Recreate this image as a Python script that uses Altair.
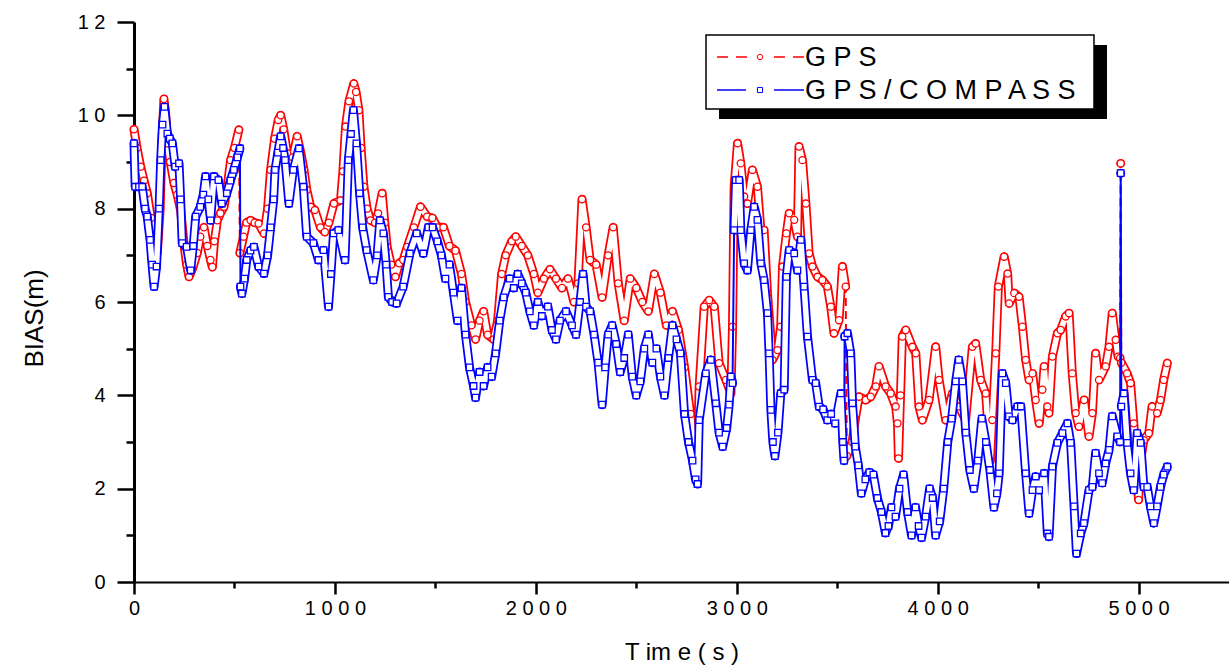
import altair as alt
import pandas as pd

# GPS only (red) : (time s, bias m)
gps_points = [
    (0, 9.7), (15, 9.3), (33, 8.9), (50, 8.6), (66, 8.33), (85, 7.8), (100, 7.4), (116, 7.05),
    (130, 8.0), (140, 9.5), (149, 10.35), (158, 10.0), (166, 9.4), (180, 9.0), (199, 8.55),
    (215, 8.3), (232, 7.97), (250, 7.2), (262, 6.8), (274, 6.54), (290, 6.7), (315, 7.05),
    (330, 7.4), (348, 7.6), (365, 7.2), (381, 6.9), (390, 6.75), (400, 7.3), (415, 7.75),
    (430, 7.9), (448, 8.04), (465, 8.5), (481, 9.04), (500, 9.3), (522, 9.69), (527, 7.05),
    (545, 7.4), (560, 7.7), (580, 7.75), (600, 7.7), (620, 7.68), (647, 7.47), (665, 8.0),
    (680, 8.83), (700, 9.5), (718, 9.9), (730, 10.0), (745, 9.7), (763, 9.19), (776, 8.76),
    (790, 9.1), (812, 9.55), (830, 9.2), (846, 8.83), (860, 8.4), (879, 8.04), (900, 7.97),
    (928, 7.6), (950, 7.5), (970, 7.7), (995, 8.11), (1028, 8.18), (1040, 8.8), (1053, 9.76),
    (1070, 10.3), (1094, 10.68), (1105, 10.5), (1119, 10.11), (1130, 9.3), (1144, 8.47),
    (1160, 8.0), (1177, 7.75), (1200, 7.7), (1215, 7.9), (1235, 8.33), (1248, 7.7), (1260, 7.18),
    (1280, 6.8), (1301, 6.54), (1320, 6.83), (1340, 6.9), (1360, 7.18), (1393, 7.6), (1426, 8.04),
    (1459, 7.83), (1485, 7.8), (1510, 7.6), (1540, 7.6), (1570, 7.2), (1600, 7.1), (1630, 6.6),
    (1650, 6.0), (1680, 5.5), (1700, 5.2), (1720, 5.6), (1740, 5.8), (1760, 5.3), (1790, 5.2),
    (1810, 5.6), (1830, 6.6), (1850, 7.0), (1880, 7.3), (1900, 7.4), (1930, 7.2), (1960, 7.0),
    (1990, 6.6), (2010, 6.2), (2040, 6.5), (2070, 6.7), (2100, 6.5), (2130, 6.3), (2160, 6.5),
    (2190, 6.0), (2210, 6.4), (2230, 8.2), (2250, 7.6), (2270, 6.9), (2300, 6.8), (2330, 6.1),
    (2360, 7.0), (2385, 7.6), (2410, 6.4), (2440, 5.6), (2470, 6.5), (2500, 6.3), (2530, 6.0),
    (2560, 5.8), (2590, 6.6), (2620, 6.2), (2650, 5.5), (2680, 5.8), (2710, 5.4), (2740, 4.6),
    (2770, 3.6), (2795, 2.4), (2805, 2.8), (2813, 4.19), (2838, 5.9), (2863, 6.04), (2888, 5.9),
    (2912, 4.69), (2946, 4.33), (2971, 4.04), (2979, 5.47), (2987, 8.47), (3004, 9.4),
    (3020, 8.97), (3037, 8.26), (3053, 8.11), (3078, 8.83), (3103, 8.47), (3120, 7.54),
    (3136, 7.54), (3153, 6.18), (3178, 4.76), (3203, 4.97), (3219, 5.47), (3228, 6.76),
    (3247, 7.47), (3261, 7.9), (3286, 7.76), (3302, 7.4), (3310, 9.33), (3327, 9.04),
    (3344, 8.11), (3360, 7.04), (3377, 6.76), (3402, 6.54), (3426, 6.47), (3451, 6.33),
    (3468, 5.9), (3484, 5.33), (3509, 5.61), (3526, 6.76), (3542, 6.33), (3548, 2.7),
    (3575, 3.0), (3590, 3.5), (3609, 3.97), (3642, 3.9), (3667, 3.97), (3692, 4.19), (3708, 4.62),
    (3741, 4.19), (3766, 4.04), (3791, 3.76), (3800, 3.4), (3805, 2.65), (3815, 4.0),
    (3824, 5.26), (3841, 5.4), (3874, 5.04), (3891, 4.9), (3907, 3.76), (3924, 3.47),
    (3957, 3.9), (3990, 5.04), (4007, 4.33), (4040, 3.47), (4073, 4.04), (4106, 3.76),
    (4139, 3.47), (4173, 5.04), (4189, 5.11), (4214, 4.33), (4239, 4.04), (4262, 2.6),
    (4272, 3.47), (4289, 4.9), (4302, 6.33), (4331, 6.97), (4348, 6.61), (4356, 5.97),
    (4381, 6.19), (4405, 6.11), (4422, 5.47), (4438, 4.76), (4455, 4.33), (4472, 4.47),
    (4488, 3.9), (4505, 3.4), (4521, 4.12), (4530, 4.62), (4546, 3.76), (4554, 3.62),
    (4571, 4.83), (4596, 5.33), (4612, 5.4), (4637, 5.69), (4654, 5.76), (4670, 4.47),
    (4687, 3.62), (4703, 3.33), (4729, 3.9), (4753, 3.12), (4770, 3.62), (4786, 4.9),
    (4803, 4.33), (4836, 4.62), (4853, 5.04), (4869, 5.76), (4886, 5.19), (4898, 4.83),
    (4908, 4.8), (4911, 8.97), (4914, 4.7), (4943, 4.47), (4960, 4.26), (4976, 3.4),
    (4993, 2.33), (5000, 1.76), (5010, 2.61), (5026, 3.04), (5051, 3.19), (5067, 3.76),
    (5092, 3.62), (5109, 3.9), (5125, 4.33), (5143, 4.69),
]

# GPS/COMPASS (blue) : (time s, bias m)
combo_points = [
    (0, 9.4), (6, 8.47), (25, 8.47), (41, 8.47), (55, 8.0), (66, 7.83), (80, 7.33), (90, 6.8),
    (100, 6.33), (112, 6.76), (125, 8.0), (133, 9.04), (142, 9.8), (152, 10.18), (166, 9.61),
    (178, 9.5), (191, 9.4), (205, 8.9), (224, 8.97), (232, 8.2), (240, 7.26), (262, 7.18),
    (282, 6.68), (295, 7.2), (307, 7.83), (330, 8.04), (345, 8.3), (356, 8.69), (370, 8.2),
    (381, 7.75), (398, 8.69), (420, 8.61), (437, 8.11), (462, 8.33), (480, 8.6), (497, 8.83),
    (515, 9.1), (527, 9.29), (530, 6.33), (537, 6.18), (550, 6.5), (561, 6.9), (580, 7.1),
    (597, 7.18), (620, 6.76), (647, 6.61), (665, 7.0), (680, 7.6), (695, 8.2), (702, 8.83),
    (716, 9.2), (730, 9.55), (742, 9.3), (752, 9.04), (771, 8.11), (793, 8.83), (821, 9.29),
    (843, 8.47), (860, 7.4), (893, 7.26), (918, 6.9), (943, 7.11), (968, 5.9), (980, 6.6),
    (993, 7.47), (1017, 7.54), (1050, 6.9), (1067, 9.04), (1080, 9.6), (1092, 10.11),
    (1107, 9.4), (1123, 8.33), (1138, 7.6), (1158, 7.11), (1191, 6.47), (1210, 7.0),
    (1224, 7.75), (1241, 7.47), (1255, 6.8), (1266, 6.11), (1285, 6.0), (1307, 5.97),
    (1340, 6.33), (1373, 7.04), (1407, 7.47), (1440, 7.04), (1465, 7.6), (1486, 7.6),
    (1510, 7.3), (1530, 7.0), (1550, 6.5), (1570, 6.8), (1590, 6.2), (1610, 5.6), (1630, 6.3),
    (1650, 5.3), (1670, 4.6), (1690, 4.2), (1700, 3.95), (1720, 4.5), (1740, 4.2), (1760, 4.6),
    (1780, 4.4), (1800, 4.9), (1820, 5.6), (1840, 6.1), (1870, 6.5), (1890, 6.3), (1910, 6.6),
    (1930, 6.4), (1950, 6.2), (1970, 5.8), (1990, 5.5), (2010, 6.0), (2030, 5.7), (2060, 5.9),
    (2080, 5.4), (2100, 5.2), (2120, 5.6), (2150, 5.8), (2180, 5.5), (2200, 5.3), (2220, 6.0),
    (2235, 6.6), (2250, 5.9), (2270, 5.8), (2290, 5.3), (2310, 4.7), (2330, 3.8), (2345, 4.6),
    (2360, 5.3), (2380, 5.5), (2400, 5.1), (2420, 4.5), (2440, 4.8), (2460, 5.3), (2480, 4.4),
    (2500, 4.0), (2520, 4.3), (2540, 5.0), (2560, 5.3), (2580, 4.7), (2600, 5.0), (2620, 4.4),
    (2640, 4.0), (2660, 4.8), (2680, 5.5), (2700, 5.2), (2720, 4.9), (2740, 3.6), (2760, 3.0),
    (2780, 2.6), (2795, 2.2), (2805, 2.1), (2813, 3.47), (2846, 4.47), (2871, 4.76),
    (2896, 3.83), (2912, 3.2), (2930, 2.9), (2950, 3.3), (2962, 3.8), (2971, 4.4), (2979, 4.26),
    (2987, 7.54), (2995, 8.61), (3012, 8.61), (3020, 7.54), (3037, 6.83), (3053, 6.68),
    (3070, 7.54), (3087, 8.04), (3103, 7.76), (3120, 6.83), (3136, 6.47), (3153, 5.76),
    (3161, 4.9), (3170, 3.69), (3180, 3.0), (3190, 2.7), (3205, 3.2), (3219, 4.04), (3236, 4.12),
    (3247, 6.54), (3261, 7.11), (3286, 7.04), (3302, 6.68), (3319, 7.33), (3335, 6.33),
    (3352, 5.26), (3377, 4.33), (3393, 4.26), (3410, 3.76), (3430, 3.7), (3451, 3.47),
    (3470, 3.6), (3490, 3.4), (3518, 4.04), (3528, 3.0), (3534, 2.6), (3537, 5.26), (3551, 5.33),
    (3567, 4.9), (3576, 3.83), (3590, 2.9), (3605, 2.5), (3620, 1.9), (3640, 2.2), (3660, 2.35),
    (3680, 2.3), (3700, 1.8), (3720, 1.5), (3740, 1.05), (3755, 1.2), (3770, 1.6), (3790, 1.4),
    (3810, 2.0), (3830, 2.3), (3850, 1.5), (3870, 1.0), (3890, 1.6), (3905, 1.2), (3920, 0.95),
    (3940, 1.4), (3960, 2.0), (3975, 1.8), (3990, 1.0), (4010, 1.3), (4030, 2.0), (4050, 3.0),
    (4070, 3.5), (4090, 4.3), (4105, 4.76), (4123, 4.3), (4140, 3.2), (4160, 2.4), (4180, 2.0),
    (4200, 2.6), (4220, 3.5), (4240, 3.0), (4260, 2.4), (4280, 1.6), (4295, 1.9), (4306, 2.33),
    (4322, 4.47), (4339, 4.26), (4355, 3.55), (4372, 3.47), (4397, 3.76), (4414, 3.76),
    (4438, 2.33), (4455, 1.47), (4472, 1.97), (4488, 2.26), (4505, 1.97), (4530, 2.33),
    (4546, 1.04), (4554, 0.97), (4571, 2.47), (4596, 2.98), (4621, 3.19), (4646, 3.4),
    (4662, 2.98), (4679, 1.62), (4691, 0.61), (4712, 1.04), (4728, 1.26), (4753, 1.97),
    (4770, 2.04), (4786, 2.76), (4803, 2.33), (4819, 2.12), (4836, 2.54), (4853, 2.83),
    (4869, 3.55), (4894, 3.12), (4908, 3.0), (4911, 8.76), (4914, 3.76), (4927, 4.04),
    (4943, 2.98), (4960, 2.33), (4976, 1.97), (4993, 3.19), (5010, 2.98), (5026, 2.04),
    (5043, 2.04), (5059, 1.62), (5076, 1.26), (5092, 1.62), (5109, 2.04), (5125, 2.3),
    (5143, 2.47),
]

series_names = ["GPS", "GPS/COMPASS"]
legend_labels = ["G P S", "G P S / C O M P A S S"]
x_ticks = list(range(0, 5001, 500))
y_ticks = list(range(0, 13, 1))


def frame(points):
    df = pd.DataFrame(points, columns=["t", "v"])
    # a new run starts where the trace jumps abruptly (drawn only as a thin line there)
    dv = df["v"].diff().abs()
    dt = df["t"].diff()
    jump = (dv > 1.5) & (dv / dt > 0.4)
    df["seg"] = jump.cumsum()
    return df


gps_df = frame(gps_points)
combo_df = frame(combo_points)

FONT = "Liberation Sans"
RED = "#ff0000"
BLUE = "#0000ff"

x_enc = alt.X(
    "t:Q",
    scale=alt.Scale(domain=[0, 5450], nice=False, zero=False),
    axis=alt.Axis(
        values=x_ticks,
        format="d",
        labelExpr="datum.value % 1000 === 0 ? join(split(datum.label, ''), ' ') : ''",
        tickSize={"condition": {"test": "datum.value % 1000 === 0", "value": 12}, "value": 6},
        tickWidth=2.5,
        tickColor="black",
        domainColor="black",
        domainWidth=2,
        labelFont=FONT,
        labelFontSize=20,
        labelColor="black",
        labelPadding=4,
        labelFlush=False,
        grid=False,
        title="T im e ( s )",
        titleFont=FONT,
        titleFontSize=24,
        titleFontWeight="normal",
        titleColor="black",
        titlePadding=22,
    ),
)
y_enc = alt.Y(
    "v:Q",
    scale=alt.Scale(domain=[0, 12], nice=False),
    axis=alt.Axis(
        values=y_ticks,
        format="d",
        labelExpr="datum.value % 2 === 0 ? join(split(datum.label, ''), ' ') : ''",
        tickSize={"condition": {"test": "datum.value % 2 === 0", "value": 17}, "value": 8},
        tickWidth=2.5,
        tickColor="black",
        domainColor="black",
        domainWidth=3,
        labelFont=FONT,
        labelFontSize=20,
        labelColor="black",
        labelPadding=12,
        labelFlush=False,
        grid=False,
        title="BIAS(m)",
        titleFont=FONT,
        titleFontSize=26,
        titleFontWeight="normal",
        titleColor="black",
        titlePadding=30,
        titleY=296,
    ),
)


def series_layers(df, color, dash, shape, size, first=False):
    base = alt.Chart(df)
    thin = base.mark_line(color=color, strokeWidth=2, **({"strokeDash": dash} if dash else {}))
    thin = thin.encode(x=x_enc, y=y_enc) if first else thin.encode(x="t:Q", y="v:Q")
    tube_out = base.mark_line(color=color, strokeWidth=9, strokeJoin="round", strokeCap="round").encode(
        x="t:Q", y="v:Q", detail="seg:N"
    )
    tube_in = base.mark_line(color="white", strokeWidth=5.5, strokeJoin="round", strokeCap="round").encode(
        x="t:Q", y="v:Q", detail="seg:N"
    )
    pts = base.mark_point(
        shape=shape, size=size, fill="white", stroke=color, strokeWidth=1.3, opacity=1
    ).encode(x="t:Q", y="v:Q")
    return [thin, tube_out, tube_in, pts]


red_layers = series_layers(gps_df, RED, [8, 5], "circle", 50, first=True)
blue_layers = series_layers(combo_df, BLUE, None, "square", 42)

one = alt.InlineData(values=[{"k": 1}])

shadow = alt.Chart(one).mark_rect(color="black").encode(
    x=alt.value(585), x2=alt.value(973), y=alt.value(23), y2=alt.value(97)
)
box = alt.Chart(one).mark_rect(fill="white", stroke="black", strokeWidth=1.5).encode(
    x=alt.value(572), x2=alt.value(960), y=alt.value(13), y2=alt.value(87)
)
leg_red_line = alt.Chart(one).mark_rule(color=RED, strokeWidth=1.5, strokeDash=[11, 8]).encode(
    x=alt.value(583), x2=alt.value(670), y=alt.value(35)
)
leg_red_gap = alt.Chart(one).mark_rule(color="white", strokeWidth=4).encode(
    x=alt.value(616), x2=alt.value(636), y=alt.value(35)
)
leg_red_pt = alt.Chart(one).mark_point(
    shape="circle", size=30, fill="white", stroke=RED, strokeWidth=1, opacity=1
).encode(x=alt.value(626), y=alt.value(35))
leg_blue_a = alt.Chart(one).mark_rule(color=BLUE, strokeWidth=1.5).encode(
    x=alt.value(583), x2=alt.value(612), y=alt.value(68)
)
leg_blue_b = alt.Chart(one).mark_rule(color=BLUE, strokeWidth=1.5).encode(
    x=alt.value(640), x2=alt.value(670), y=alt.value(68)
)
leg_blue_pt = alt.Chart(one).mark_point(
    shape="square", size=26, fill="white", stroke=BLUE, strokeWidth=1, opacity=1
).encode(x=alt.value(626), y=alt.value(68))
leg_text1 = alt.Chart(one).mark_text(
    align="left", baseline="middle", font=FONT, fontSize=27, color="black"
).encode(x=alt.value(671), y=alt.value(36), text=alt.value(legend_labels[0]))
leg_text2 = alt.Chart(one).mark_text(
    align="left", baseline="middle", font=FONT, fontSize=27, color="black"
).encode(x=alt.value(671), y=alt.value(69), text=alt.value(legend_labels[1]))

chart = alt.layer(
    *red_layers, *blue_layers,
    shadow, box, leg_red_line, leg_red_gap, leg_red_pt,
    leg_blue_a, leg_blue_b, leg_blue_pt, leg_text1, leg_text2,
).properties(
    width=1095,
    height=560,
    autosize=alt.AutoSizeParams(type="none"),
    padding={"left": 134, "top": 22, "right": 0, "bottom": 87},
    background="white",
).configure_view(stroke=None)

chart.save("out.html", embed_options={"renderer": "svg", "actions": False})
